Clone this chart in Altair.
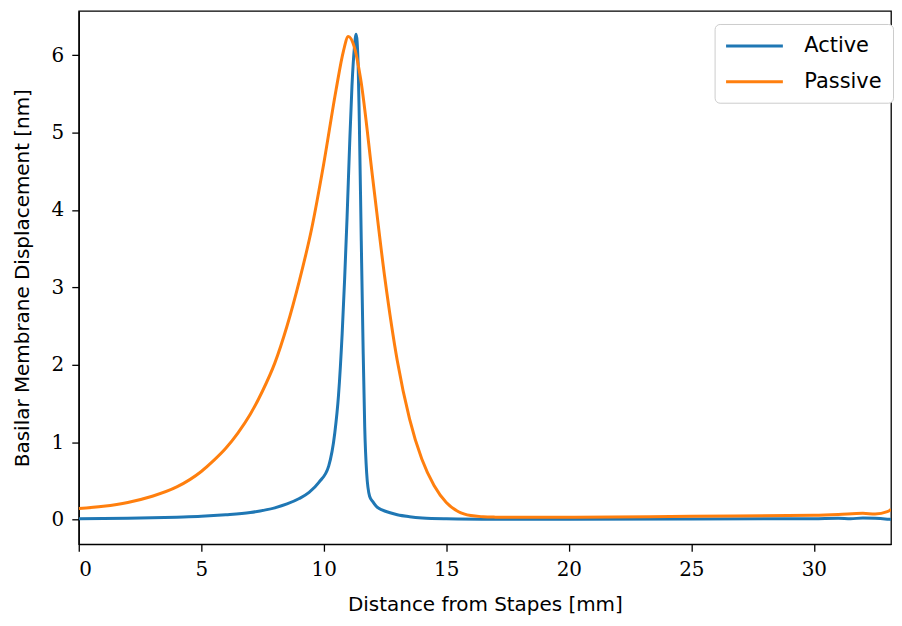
import altair as alt
import pandas as pd

active_x = [0, 2, 4, 5, 6, 7, 8, 8.5, 9, 9.4, 9.8, 10.2, 10.45, 10.6, 10.75, 10.85, 10.95, 11.05, 11.15, 11.25, 11.32, 11.4, 11.45, 11.53, 11.6, 11.67, 11.75, 11.87, 12.0, 12.14, 12.4, 12.67, 13.0, 13.5, 14.02, 15, 17, 20, 25, 28, 30, 31, 31.5, 32, 32.5, 33, 33.15]
active_y = [0.01, 0.015, 0.03, 0.04, 0.06, 0.09, 0.15, 0.2, 0.27, 0.35, 0.48, 0.69, 1.12, 1.6, 2.4, 3.1, 3.9, 4.8, 5.6, 6.1, 6.27, 5.9, 5.15, 3.6, 2.3, 1.2, 0.6, 0.3, 0.23, 0.17, 0.12, 0.09, 0.06, 0.035, 0.02, 0.01, 0.004, 0.003, 0.005, 0.008, 0.01, 0.015, 0.008, 0.02, 0.015, 0.004, 0.0]

passive_x = [0, 1, 2, 3, 4, 5, 5.5, 6, 6.5, 7, 7.5, 8, 8.5, 9, 9.5, 10, 10.5, 10.8, 11.0, 11.25, 11.5, 12, 12.5, 13, 13.5, 14, 14.5, 15, 15.5, 16, 16.5, 17, 18, 20, 25, 30, 31, 32, 32.5, 33, 33.15]
passive_y = [0.14, 0.17, 0.22, 0.3, 0.42, 0.62, 0.76, 0.92, 1.12, 1.36, 1.66, 2.02, 2.5, 3.08, 3.75, 4.6, 5.55, 6.05, 6.24, 6.1, 5.7, 4.4, 3.1, 2.05, 1.3, 0.78, 0.44, 0.22, 0.1, 0.05, 0.035, 0.03, 0.027, 0.027, 0.04, 0.055, 0.065, 0.08, 0.07, 0.1, 0.13]

rows = []
for x, y in zip(active_x, active_y):
    rows.append({"x": x, "y": y, "series": "Active", "i": len(rows)})
for x, y in zip(passive_x, passive_y):
    rows.append({"x": x, "y": y, "series": "Passive", "i": len(rows)})
df = pd.DataFrame(rows)

serif = "DejaVu Serif"
sans = "DejaVu Sans"

chart = alt.Chart(df).mark_line(strokeWidth=3, clip=True, interpolate="monotone").encode(
    x=alt.X("x:Q", title="Distance from Stapes [mm]",
            scale=alt.Scale(domain=[0, 33.15], nice=False, zero=False),
            axis=alt.Axis(values=[0, 5, 10, 15, 20, 25, 30], grid=False, titlePadding=16)),
    y=alt.Y("y:Q", title="Basilar Membrane Displacement [nm]",
            scale=alt.Scale(domain=[-0.32, 6.57], nice=False, zero=False),
            axis=alt.Axis(values=[0, 1, 2, 3, 4, 5, 6], grid=False, titlePadding=19)),
    color=alt.Color("series:N", title=None,
                    scale=alt.Scale(domain=["Active", "Passive"], range=["#1f77b4", "#ff7f0e"]),
                    legend=alt.Legend(orient="none", legendX=638, legendY=13,
                                      symbolType="M-3,0H3", symbolSize=361, symbolStrokeWidth=3,
                                      symbolOffset=18,
                                      labelFont=sans, labelFontSize=21, labelColor="black",
                                      padding=11, rowPadding=15, labelOffset=39,
                                      strokeColor="#cccccc", cornerRadius=5, fillColor="white")),
    order="i:Q",
).properties(width=815, height=535, padding={"left": 4, "top": 2, "right": 0, "bottom": 2}).configure_view(
    stroke="black", strokeWidth=1.3
).configure_axis(
    domainColor="black", domainWidth=1.3, tickColor="black", tickWidth=1.3, tickSize=7,
    labelFont=serif, labelFontSize=20, labelColor="black", labelPadding=8,
    titleFont=sans, titleFontSize=20, titleFontWeight="normal", titleColor="black",
)

chart.save("out.html", embed_options={"renderer": "svg", "actions": False})
